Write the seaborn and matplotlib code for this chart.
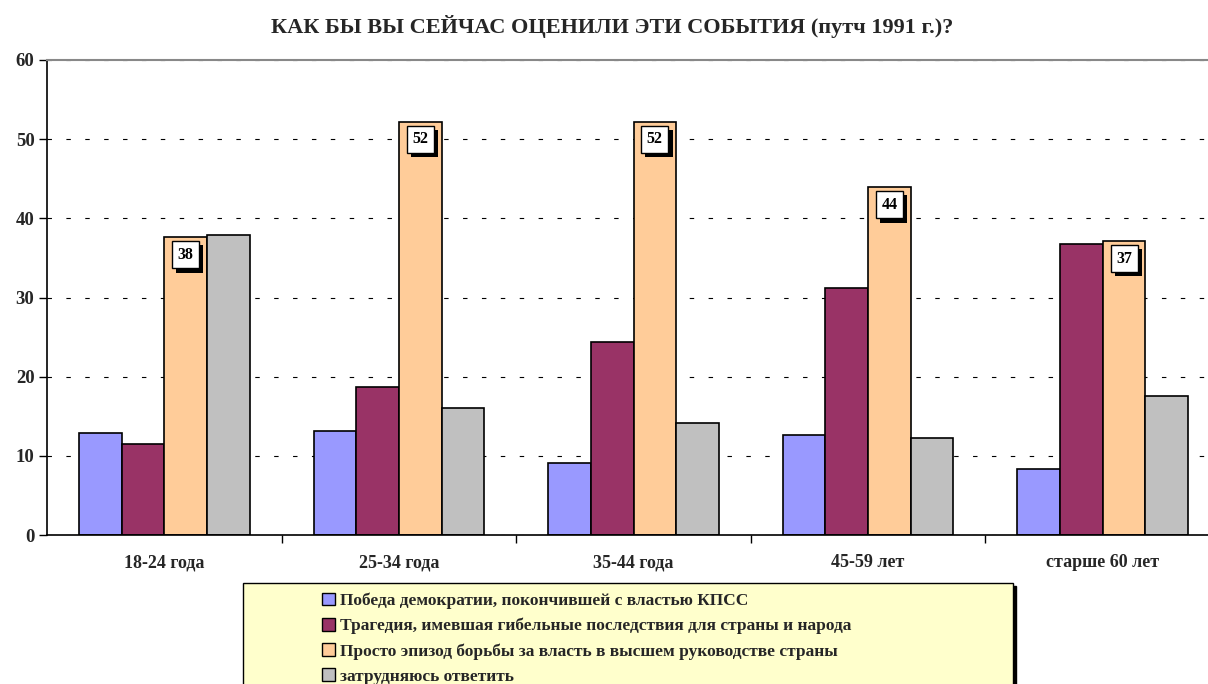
import matplotlib
matplotlib.use("Agg")
import matplotlib.pyplot as plt
import matplotlib.patheffects as pe
from matplotlib.patches import Patch, Rectangle
import seaborn as sns
import pandas as pd

# Данные опроса
groups = ['18-24 года', '25-34 года', '35-44 года', '45-59 лет', 'старше 60 лет']
answers = ['Победа демократии, покончившей с властью КПСС',
           'Трагедия, имевшая гибельные последствия для страны и народа',
           'Просто эпизод борьбы за власть в высшем руководстве страны',
           'затрудняюсь ответить']
pobeda = [12.9, 13.1, 9.1, 12.6, 8.3]
tragedia = [11.5, 18.7, 24.4, 31.2, 36.8]
epizod = [37.6, 52.2, 52.2, 43.9, 37.1]
zatrud = [37.9, 16.0, 14.1, 12.2, 17.6]
colors = ['#9999FF', '#993366', '#FFCC99', '#C0C0C0']

rows = []
for name, vals in zip(answers, [pobeda, tragedia, epizod, zatrud]):
    for g, v in zip(groups, vals):
        rows.append({'группа': g, 'ответ': name, 'процент': v})
df = pd.DataFrame(rows)

sns.set_style('white')
plt.rcParams['font.family'] = ['Liberation Serif', 'DejaVu Serif']
plt.rcParams['font.weight'] = 'bold'

W, H = 1208, 684
fig = plt.figure(figsize=(W / 100, H / 100), dpi=100)
ax = fig.add_axes([47 / W, 1 - 535 / H, (1220 - 47) / W, 475 / H])

sns.barplot(data=df, x='группа', y='процент', hue='ответ', order=groups,
            hue_order=answers, palette=colors, saturation=1, width=0.728, ax=ax,
            edgecolor='black', linewidth=1.2, legend=False, errorbar=None)

ax.set_xlim(-0.5, 4.5)
ax.set_ylim(0, 60)
ax.set_yticks(range(0, 61, 10))
ax.set_xlabel('')
ax.set_ylabel('')
ax.set_axisbelow(True)
ax.yaxis.grid(True, linestyle=(0, (4, 13)), color='black', linewidth=0.8)

for s in ['left', 'bottom']:
    ax.spines[s].set_color('black')
    ax.spines[s].set_linewidth(1.2)
ax.spines['right'].set_visible(False)
ax.spines['top'].set_color('#888888')
ax.spines['top'].set_linewidth(1.5)

ax.tick_params(axis='y', which='major', direction='out', length=6, width=1,
               color='black', labelsize=13.5, pad=3, left=True)
ax.tick_params(axis='x', which='major', length=0, labelsize=13, pad=14)
ax.set_xticks([i + 0.5 for i in range(5)], minor=True)
ax.tick_params(axis='x', which='minor', direction='out', length=6, width=1,
               color='black', bottom=True)
for lab in ax.get_xticklabels() + ax.get_yticklabels():
    lab.set_fontweight('bold')

# Подписи значений на оранжевых столбцах (белая рамка с тенью)
n = len(answers)
bw = 0.728 / n
for i, v in enumerate(epizod):
    x = i - 0.728 / 2 + bw * 2.5
    t = ax.text(x, v - 2.2, str(int(round(v))), ha='center', va='center',
                fontsize=11.5, fontweight='bold', color='black',
                bbox=dict(boxstyle='square,pad=0.35', fc='white', ec='black', lw=1))
    t.get_bbox_patch().set_path_effects([
        pe.SimplePatchShadow(offset=(3, -3), shadow_rgbFace='black', alpha=1),
        pe.Normal()])

fig.suptitle('КАК БЫ ВЫ СЕЙЧАС ОЦЕНИЛИ ЭТИ СОБЫТИЯ (путч 1991 г.)?',
             x=612 / W, y=1 - 27 / H, va='center', fontsize=16, fontweight='bold')

# Рамка легенды с тенью
fig.add_artist(Rectangle((246 / W, 1 - 720 / H), (1013 - 243) / W, (720 - 586) / H,
                         transform=fig.transFigure, fc='black', ec='black', lw=1))
fig.add_artist(Rectangle((243 / W, 1 - 720 / H), (1013 - 243) / W, (720 - 583) / H,
                         transform=fig.transFigure, fc='#FFFFCC', ec='black', lw=1))

handles = [Patch(facecolor=c, edgecolor='black', linewidth=1) for c in colors]
leg = fig.legend(handles, answers, loc='upper left',
                 bbox_to_anchor=(313 / W, 1 - 584 / H), frameon=False,
                 borderpad=0, handlelength=0.75, handleheight=0.75,
                 handletextpad=0.3, labelspacing=0.5,
                 prop={'size': 12.5, 'weight': 'bold'})

fig.savefig('out.png', dpi=100)
